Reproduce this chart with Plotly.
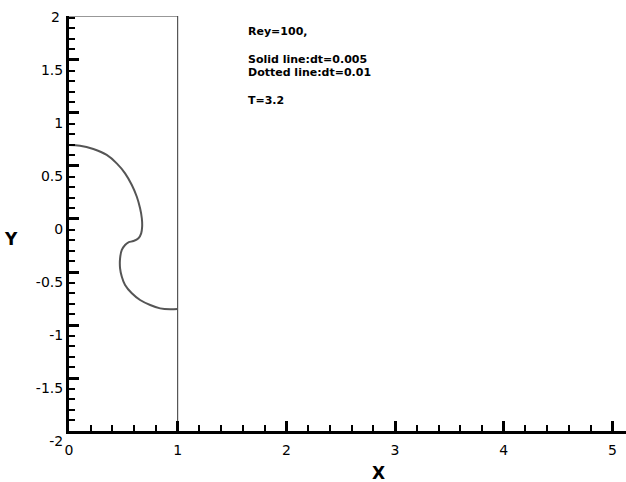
import plotly.graph_objects as go

# Interface curve (solid line, dt=0.005)
curve_x = [0.0, 0.101, 0.224, 0.347, 0.439, 0.516, 0.578, 0.624, 0.654, 0.670,
           0.673, 0.664, 0.639, 0.593, 0.547, 0.516, 0.486, 0.470, 0.470, 0.486,
           0.516, 0.578, 0.654, 0.747, 0.839, 0.931, 0.998]
curve_y = [0.698, 0.692, 0.660, 0.604, 0.525, 0.431, 0.321, 0.210, 0.101, 0.007,
           -0.073, -0.135, -0.182, -0.208, -0.220, -0.245, -0.292, -0.371, -0.465, -0.544,
           -0.623, -0.701, -0.764, -0.811, -0.843, -0.852, -0.849]

# Computational domain boundary
domain_x = [0, 1, 1]
domain_y_top = 1.915
domain_y_bottom = -2

x_range = [0, 5.125]
y_range = [-2, 1.915]
x_ticks = [0, 1, 2, 3, 4, 5]
y_ticks = [-2, -1.5, -1, -0.5, 0, 0.5, 1, 1.5]
y_extra_label = 2

notes = ["Rey=100,", "Solid line:dt=0.005", "Dotted line:dt=0.01", "T=3.2"]
notes_y = [1.77, 1.50, 1.38, 1.12]

FONT = "DejaVu Sans, Verdana, sans-serif"

fig = go.Figure()
fig.add_trace(go.Scatter(
    x=domain_x, y=[domain_y_top, domain_y_top, domain_y_bottom],
    mode="lines", line=dict(color="#333333", width=1), hoverinfo="skip"))
fig.add_trace(go.Scatter(
    x=curve_x, y=curve_y, mode="lines", line=dict(color="#555555", width=2, shape="spline"),
    hoverinfo="skip"))

axis_common = dict(
    showgrid=False, zeroline=False, showline=True, linecolor="black", linewidth=3,
    ticks="inside", ticklen=10, tickwidth=3, tickcolor="black",
    tickfont=dict(family=FONT, size=14, color="black"),
)
fig.update_xaxes(range=x_range, tickvals=x_ticks, ticktext=[str(v) for v in x_ticks],
                 ticklabelstandoff=4,
                 minor=dict(ticks="inside", ticklen=6, tickwidth=1.5, dtick=0.2, tick0=0,
                            tickcolor="black", showgrid=False),
                 **axis_common)
fig.update_yaxes(range=y_range, tickvals=y_ticks,
                 ticktext=[("%g" % v) for v in y_ticks],
                 ticklabelshift=10,
                 minor=dict(ticks="inside", ticklen=6, tickwidth=1.5, dtick=0.1, tick0=0,
                            tickcolor="black", showgrid=False),
                 **axis_common)

annotations = []
for t, yy in zip(notes, notes_y):
    annotations.append(dict(x=1.625, y=yy, xref="x", yref="y", text="<b>%s</b>" % t,
                            showarrow=False, xanchor="left", yanchor="middle",
                            font=dict(family=FONT, size=11, color="black")))
extra_paper_y = (y_extra_label - y_range[0]) / (y_range[1] - y_range[0])
annotations.append(dict(x=0, y=extra_paper_y, xref="paper", yref="paper", text=str(y_extra_label),
                        showarrow=False, xanchor="right", yanchor="middle", xshift=-7, yshift=-10,
                        font=dict(family=FONT, size=14, color="black")))
annotations.append(dict(x=-0.105, y=0.5, xref="paper", yref="paper", text="<b>Y</b>",
                        showarrow=False, xanchor="center", yanchor="middle", yshift=-15,
                        font=dict(family=FONT, size=17, color="black")))
annotations.append(dict(x=2.85, y=0, xref="x", yref="paper", text="<b>X</b>",
                        showarrow=False, xanchor="center", yanchor="top", yshift=-30,
                        font=dict(family=FONT, size=17, color="black")))

fig.update_layout(
    width=626, height=482,
    margin=dict(l=69, r=0, t=16, b=51),
    paper_bgcolor="white", plot_bgcolor="white",
    showlegend=False,
    annotations=annotations,
)

fig.write_html("out.html")
